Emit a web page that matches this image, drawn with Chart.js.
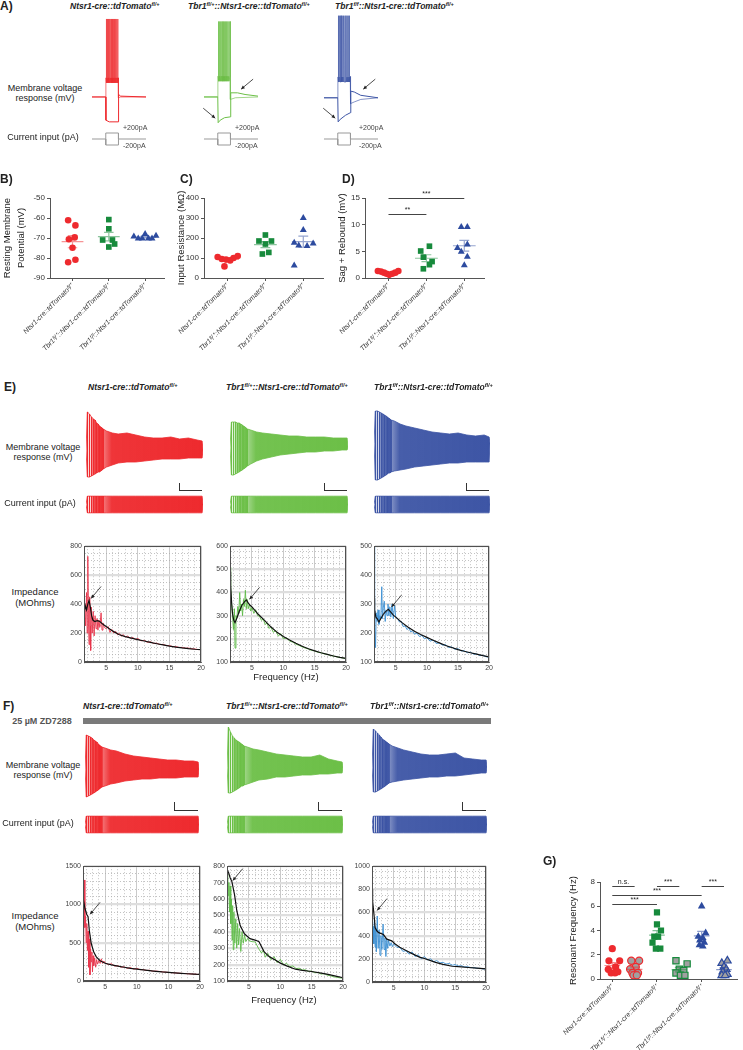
<!DOCTYPE html>
<html>
<head>
<meta charset="utf-8">
<script src="https://cdn.jsdelivr.net/npm/chart.js@4.4.1/dist/chart.umd.min.js"></script>
<style>
  body { margin: 0; background: #fff; }
  #fig { position: relative; width: 743px; height: 1050px; overflow: hidden; font-family: "Liberation Sans", Arial, sans-serif; color: #222; }
  #fig canvas { position: absolute; }
  .t { position: absolute; white-space: nowrap; line-height: 1.15; text-align: center; }
  .t sup { font-size: 5.5px; vertical-align: 3px; line-height: 0; }
  .sb { position: absolute; border-left: 1.3px solid #333; border-bottom: 1.3px solid #333; }
</style>
</head>
<body>
<div id="fig"></div>
<script>
// ---------- data ----------
const genotypes = ['Ntsr1-cre::tdTomatoᶠˡ/⁺', 'Tbr1ᶠˡ/⁺::Ntsr1-cre::tdTomatoᶠˡ/⁺', 'Tbr1ᶠ/ᶠ::Ntsr1-cre::tdTomatoᶠˡ/⁺'];
const titles = ['Ntsr1-cre::tdTomato<sup>fl/+</sup>', 'Tbr1<sup>fl/+</sup>::Ntsr1-cre::tdTomato<sup>fl/+</sup>', 'Tbr1<sup>f/f</sup>::Ntsr1-cre::tdTomato<sup>fl/+</sup>'];

// A: step responses (time ms, mV)
const aRest = [-65, -65, -66];
const aStepV = [-42, -40, -41];
const aSpikePeak = [29, 26, 33];
const aSpikeT = [
  [262, 271, 281, 292, 304, 317, 331, 346, 362, 379, 397, 416, 436, 457, 478],
  [262, 273, 285, 298, 312, 327, 343, 360, 378, 397, 417, 438, 460, 482],
  [262, 272, 283, 295, 308, 322, 337, 353, 370, 388, 407, 427, 448, 470]
];
const aHyper = [
  [[0, -65], [255, -65], [258, -93], [320, -95], [488, -95], [492, -62], [530, -64], [1000, -65]],
  [[0, -65], [255, -65], [262, -96], [300, -93], [380, -90], [488, -89], [495, -60], [620, -60], [760, -62], [1000, -64]],
  [[0, -66], [255, -66], [262, -95], [300, -92], [400, -87], [488, -84], [496, -58], [560, -59], [680, -63], [1000, -66]]
];
const aDepolEnd = [
  [[488, -42], [491, -66], [530, -65], [1000, -65]],
  [[488, -40], [494, -68], [580, -66], [1000, -65]],
  [[488, -40], [495, -73], [560, -71], [680, -68], [1000, -66]]
];
const aCurrentUp = [[0, 0], [255, 0], [255, 200], [490, 200], [490, 0], [1000, 0]];
const aCurrentDown = [[255, 0], [255, -200], [490, -200], [490, 0]];
const aArrows = [[], [[245, -93, -1], [650, -58, 1]], [[245, -93, -1], [690, -58, 1]]];

// B-D: passive properties
const rmpVals = [[-61.1, -63.7, -69.7, -70.6, -74.9, -80.9, -82.1], [-60.8, -65.4, -71, -71, -73, -74.5], [-69.2, -70.2, -70.2, -68, -70.2, -70.2, -68.9]];
const rmpJit = [[-0.12, 0.08, 0.06, -0.1, 0, 0.08, -0.12], [0, 0, -0.17, 0.1, 0.16, 0], [-0.31, -0.19, -0.08, 0, 0.09, 0.19, 0.3]];
const irVals = [[105, 95, 92, 88, 100, 110, 58], [185, 215, 185, 170, 120, 128], [300, 240, 176, 162, 160, 172, 62]];
const irJit = [[-0.26, -0.15, -0.04, 0.07, 0.16, 0.27, -0.08], [-0.17, 0, 0.16, 0, -0.08, 0.09], [0, 0, -0.24, -0.12, 0.1, 0.26, -0.24]];
const sagVals = [[1.3, 1.2, 1.0, 0.8, 0.6, 0.8, 1.0, 1.3], [5.06, 5.96, 3.9, 3.08, 2.5, 1.73], [9.55, 9.55, 6.3, 5.64, 4.94, 3.97, 2.37]];
const sagJit = [[-0.28, -0.2, -0.12, -0.05, 0.02, 0.1, 0.18, 0.26], [-0.15, 0.08, -0.08, 0.15, 0.08, -0.08], [-0.08, 0.08, 0.08, -0.18, -0.08, 0.08, 0]];
const sagSig = [[0, 2, 15, '***'], [0, 1, 12, '**']];

// E/F: chirp envelopes (time s, mV from rest / pA)
const envT = [0, 0.15, 0.25, 0.6, 0.95, 1.25, 1.55, 1.82, 2.08, 2.32, 2.55, 2.76, 2.96, 3.5, 4.5, 5.5, 7, 8.5, 10, 11.5, 13, 14.5, 16, 17.5, 19, 19.85, 20];
const eUp = [
  [0, 0, 38, 36, 33, 31, 30, 27, 26, 24, 23, 22, 21, 19, 17, 16, 17, 15, 13, 12, 12, 13, 11, 12, 10, 9, 0],
  [0, 0, 25, 25, 25, 24, 24, 23, 22, 21, 20, 19, 18, 17, 15, 14, 13, 12, 11, 11, 10, 10, 10, 9, 9, 9, 0],
  [0, 0, 32, 32, 31, 30, 29, 28, 27, 26, 25, 24, 23, 22, 19, 17, 15, 13, 11, 10, 9, 10, 8, 7, 8, 6, 0]
];
const eLo = [
  [0, 0, -27, -27, -26, -25, -24, -23, -22, -22, -21, -20, -19, -17, -15, -13, -12, -12, -11, -10, -9, -9, -9, -8, -8, -8, 0],
  [0, 0, -28, -28, -27, -26, -25, -24, -23, -22, -21, -20, -19, -17, -14, -12, -10, -8, -7, -6, -5, -5, -4, -4, -3, -3, 0],
  [0, 0, -37, -37, -36, -35, -34, -33, -32, -31, -30, -30, -29, -28, -27, -26, -24, -23, -22, -21, -20, -20, -19, -19, -19, -19, 0]
];
const fUp = [
  [0, 0, 34, 33, 32, 31, 29, 28, 27, 25, 24, 23, 22, 21, 19, 18, 15, 13, 12, 11, 10, 9, 9, 8, 8, 7, 0],
  [0, 0, 40, 35, 31, 29, 27, 26, 25, 24, 23, 22, 21, 20, 18, 17, 15, 13, 12, 11, 10, 10, 12, 8, 6, 5, 0],
  [0, 0, 38, 36, 34, 32, 30, 28, 27, 26, 25, 24, 23, 21, 19, 17, 15, 13, 12, 12, 13, 14, 9, 8, 7, 7, 0]
];
const fLo = [
  [0, 0, -28, -27, -26, -25, -24, -23, -22, -21, -20, -19, -18, -17, -15, -14, -12, -11, -10, -10, -9, -9, -9, -8, -8, -8, 0],
  [0, 0, -26, -26, -25, -24, -23, -22, -21, -20, -19, -19, -18, -17, -15, -13, -12, -10, -10, -9, -8, -8, -7, -7, -6, -6, 0],
  [0, 0, -25, -25, -24, -23, -22, -21, -20, -19, -18, -17, -16, -15, -14, -13, -12, -11, -10, -10, -9, -9, -8, -7, -6, -6, 0]
];
const curUp = [0, 0, 100, 100, 100, 100, 100, 100, 100, 100, 100, 100, 100, 100, 100, 100, 100, 100, 100, 100, 100, 100, 100, 100, 100, 100, 0];
const curLo = [0, 0, -100, -100, -100, -100, -100, -100, -100, -100, -100, -100, -100, -100, -100, -100, -100, -100, -100, -100, -100, -100, -100, -100, -100, -100, 0];

// E/F: impedance profiles [Hz, MOhm]
const e1Raw = [[1.5,300],[1.6,400],[1.75,250],[1.9,480],[2.0,200],[2.1,730],[2.2,300],[2.3,120],[2.4,450],[2.5,250],[2.55,80],[2.65,380],[2.8,200],[2.95,350],[3.1,180],[3.25,320],[3.4,230],[3.55,300],[3.7,220],[3.85,290],[4.0,240],[4.2,340],[4.35,220],[4.5,270],[4.7,240],[5.0,230],[5.3,245],[5.6,205],[5.9,225],[6.2,200],[6.5,212],[6.8,188],[7.1,198],[7.4,178],[7.7,190],[8.0,172],[8.4,180],[8.8,162],[9.2,170],[9.6,155],[10,163],[10.5,146],[11,150],[11.5,136],[12,140],[12.5,128],[13,130],[13.5,120],[14,122],[14.5,113],[15,114],[15.5,106],[16,107],[16.5,100],[17,101],[17.5,95],[18,96],[18.5,91],[19,90],[19.5,86],[20,86]];
const e1Fit = [[1.5,330],[1.7,390],[1.9,360],[2.1,400],[2.3,425],[2.5,380],[2.7,320],[2.9,290],[3.2,280],[3.6,285],[4.0,280],[4.5,260],[5,245],[6,215],[7,190],[8,175],[9,165],[10,155],[11,145],[12,135],[13,126],[14,118],[15,110],[16,103],[17,97],[18,92],[19,88],[20,85]];
const e2Raw = [[1.5,510],[1.6,430],[1.75,350],[1.9,300],[2.05,240],[2.2,330],[2.3,160],[2.45,300],[2.6,290],[2.75,340],[2.9,310],[3.05,400],[3.2,320],[3.35,350],[3.5,300],[3.65,370],[3.8,340],[3.95,410],[4.1,330],[4.25,370],[4.4,330],[4.6,350],[4.8,320],[5.0,335],[5.3,310],[5.6,325],[5.9,300],[6.2,298],[6.5,280],[6.8,285],[7.1,262],[7.4,268],[7.7,245],[8.0,252],[8.4,228],[8.8,236],[9.2,212],[9.6,222],[10,200],[10.5,205],[11,190],[11.5,186],[12,177],[12.5,172],[13,165],[13.5,160],[14,156],[14.5,150],[15,148],[15.5,142],[16,140],[16.5,135],[17,133],[17.5,128],[18,126],[18.5,122],[19,120],[19.5,117],[20,115]];
const e2Fit = [[1.5,490],[1.6,430],[1.75,360],[1.9,310],[2.1,280],[2.3,270],[2.6,290],[3.0,320],[3.4,345],[3.8,360],[4.1,368],[4.4,355],[4.7,345],[5,338],[5.5,322],[6,306],[7,280],[8,252],[9,228],[10,210],[11,195],[12,181],[13,168],[14,157],[15,148],[16,140],[17,133],[18,126],[19,120],[20,116]];
const e3Raw = [[1.5,500],[1.55,350],[1.65,230],[1.75,150],[1.85,270],[2.0,240],[2.15,280],[2.3,230],[2.45,260],[2.6,250],[2.75,360],[2.85,250],[3.0,290],[3.15,310],[3.3,240],[3.45,280],[3.6,260],[3.75,300],[3.9,260],[4.05,290],[4.2,255],[4.4,300],[4.6,250],[4.8,295],[5.0,255],[5.3,250],[5.6,238],[5.9,240],[6.2,222],[6.5,225],[6.8,212],[7.1,218],[7.4,204],[7.7,208],[8.0,196],[8.4,200],[8.8,188],[9.2,192],[9.6,180],[10,184],[10.5,172],[11,176],[11.5,164],[12,166],[12.5,158],[13,160],[13.5,150],[14,152],[14.5,144],[15,146],[15.5,138],[16,139],[16.5,132],[17,134],[17.5,127],[18,128],[18.5,122],[19,123],[19.5,118],[20,117]];
const e3Fit = [[1.5,320],[1.6,280],[1.8,255],[2.0,250],[2.3,238],[2.6,250],[3.0,265],[3.4,275],[3.8,282],[4.2,272],[4.6,262],[5,255],[6,236],[7,220],[8,206],[9,195],[10,185],[11,175],[12,166],[13,157],[14,150],[15,143],[16,137],[17,132],[18,127],[19,122],[20,118]];
const f1Raw = [[1.5,950],[1.55,600],[1.6,250],[1.7,1320],[1.8,700],[1.9,850],[2.0,500],[2.1,750],[2.2,400],[2.3,650],[2.4,180],[2.5,550],[2.6,80],[2.7,420],[2.8,250],[2.9,380],[3.0,120],[3.1,330],[3.2,200],[3.35,300],[3.5,180],[3.65,280],[3.8,220],[4.0,270],[4.2,230],[4.4,290],[4.6,230],[4.8,260],[5,235],[5.5,215],[6,225],[6.5,195],[7,200],[7.5,180],[8,185],[8.5,165],[9,175],[9.5,155],[10,165],[10.5,148],[11,150],[11.5,138],[12,140],[12.5,128],[13,130],[14,120],[15,112],[16,106],[17,100],[18,95],[19,90],[20,84]];
const f1Fit = [[1.5,1090],[1.8,950],[2.1,870],[2.3,840],[2.5,660],[2.8,490],[3.2,380],[3.6,315],[4.2,265],[5,232],[6,210],[7,195],[8,180],[9,166],[10,155],[11,145],[12,135],[13,126],[14,118],[15,112],[16,106],[17,100],[18,95],[19,90],[20,85]];
const f2Raw = [[1.5,560],[1.6,760],[1.7,620],[1.8,700],[1.9,520],[2.0,680],[2.1,450],[2.2,600],[2.3,350],[2.4,560],[2.5,290],[2.6,520],[2.75,330],[2.9,480],[3.05,300],[3.2,450],[3.35,320],[3.5,420],[3.7,280],[3.9,400],[4.1,330],[4.3,380],[4.5,340],[4.8,360],[5,345],[5.5,340],[6,338],[6.5,300],[7,270],[7.3,290],[7.6,245],[8,268],[8.5,230],[9,248],[9.5,212],[10,232],[10.5,198],[11,208],[11.5,188],[12,192],[12.5,176],[13,178],[13.5,168],[14,168],[14.5,158],[15,160],[15.5,150],[16,152],[16.5,142],[17,145],[17.5,135],[18,132],[18.5,125],[19,123],[19.5,119],[20,117]];
const f2Fit = [[1.5,780],[1.76,760],[2.0,730],[2.28,706],[2.7,627],[3.07,527],[3.6,438],[4.27,388],[5.16,358],[6.1,348],[6.6,339],[7.4,279],[8.2,249],[9,232],[10,209],[11,192],[12.4,172],[13.5,165],[15,158],[16.5,148],[17.6,140],[19,128],[20,120]];
const f3Raw = [[1.5,520],[1.6,380],[1.7,480],[1.8,330],[1.9,550],[2.0,300],[2.1,470],[2.2,260],[2.35,570],[2.5,290],[2.65,450],[2.8,230],[2.95,400],[3.1,280],[3.3,500],[3.45,280],[3.6,380],[3.75,220],[3.9,370],[4.05,290],[4.2,360],[4.4,310],[4.6,340],[4.8,305],[5,330],[5.5,300],[6,300],[6.5,265],[7,270],[7.5,240],[8,260],[8.5,220],[9,235],[9.5,200],[10,220],[10.5,190],[11,200],[11.5,175],[12,185],[12.5,165],[13,170],[13.5,155],[14,160],[14.5,145],[15,150],[15.5,138],[16,140],[16.5,130],[17,132],[17.5,124],[18,125],[18.5,118],[19,118],[19.5,113],[20,112]];
const f3Fit = [[1.5,800],[1.6,700],[1.75,620],[1.9,540],[2.0,470],[2.3,440],[2.6,426],[3.0,418],[3.35,410],[3.9,370],[4.7,355],[5.2,330],[6,300],[7.1,270],[8,245],[9.2,215],[10,203],[11,185],[11.8,170],[13,152],[14.5,136],[16,130],[17.1,125],[18.5,119],[20,114]];
const freqLabels = ['5', '10', '15', '20'];
const freqLabelsF1 = ['5', '10', '10', '20']; // as printed in the figure

// G: resonant frequency
const resVals = [[2.5, 1.5, 1.5, 1.0, 0.8, 0.5, 0.5, 0.6], [1.5, 1.5, 1.0, 0.8, 0.5, 0.5, 0.3, 0.3], [5.5, 4.5, 4.0, 3.5, 3.5, 3.0, 2.5, 2.5], [1.5, 1.25, 0.8, 0.7, 0.5, 0.3, 0.3], [6.0, 3.8, 3.5, 3.4, 3.2, 3.0, 2.8, 2.7], [1.5, 1.3, 1.0, 0.8, 0.6, 0.4, 0.3, 0.3]];
const resJit = [[0, -0.15, 0.33, 0.15, -0.18, -0.05, 0.12, 0.25], [-0.15, 0.2, 0.05, -0.2, -0.1, 0.15, -0.05, 0.1], [0, 0, 0.18, -0.12, 0.05, -0.2, -0.05, 0.15], [-0.15, 0.35, 0, 0.2, -0.15, 0.05, 0.25], [0, 0.18, -0.15, 0.05, -0.08, 0.12, -0.1, 0.05], [0.15, -0.1, 0, 0.1, -0.05, 0.15, -0.1, 0.05]];
const resSig = [[0, 1, 7.65, 'n.s.'], [2, 3, 7.65, '***'], [4, 5, 7.65, '***'], [0, 4, 6.9, '***'], [0, 2, 6.2, '***']];

// ---------- colours ----------
const RED = '#ee2a2e', GREEN = '#6cbf47', BLUE = '#3d55a5';
const DOT_GREEN = '#178a3c', DOT_BLUE = '#2d4b9f', GRAY = '#a0a0a0';
const IMP = ['#e8354c', '#5fbb48', '#3b8fd2'];
const traceColors = [RED, GREEN, BLUE];

function rgba(hex, a) {
  const n = parseInt(hex.slice(1), 16);
  return `rgba(${n >> 16},${(n >> 8) & 255},${n & 255},${a})`;
}

Chart.defaults.font.family = '"Liberation Sans", Arial, sans-serif';
Chart.defaults.animation = false;
Chart.defaults.responsive = false;
Chart.defaults.events = [];
Chart.defaults.plugins.legend.display = false;
Chart.defaults.plugins.tooltip.enabled = false;

// box around impedance plots
const framePlugin = {
  id: 'frame',
  afterDraw(chart, args, opts) {
    if (!opts.on) return;
    const { ctx, chartArea: ca } = chart;
    ctx.save();
    ctx.strokeStyle = '#505050';
    ctx.lineWidth = 1;
    ctx.strokeRect(Math.round(ca.left) + 0.5, Math.round(ca.top) + 0.5, Math.round(ca.right - ca.left) - 1, Math.round(ca.bottom - ca.top) - 1);
    ctx.restore();
  }
};
// small pointer arrows
const arrowPlugin = {
  id: 'arrows',
  afterDatasetsDraw(chart, args, opts) {
    if (!opts.pts || !opts.pts.length) return;
    const { ctx, scales: { x, y } } = chart;
    const dx = opts.dx || 10, dy = opts.dy || 12;
    ctx.save();
    ctx.strokeStyle = '#222';
    ctx.fillStyle = '#222';
    ctx.lineWidth = 0.8;
    opts.pts.forEach(([fx, fv, side]) => {
      const px = x.getPixelForValue(fx) + side * 2, py = y.getPixelForValue(fv) - 2;
      const tx = px + side * dx, ty = py - dy;
      ctx.beginPath(); ctx.moveTo(tx, ty); ctx.lineTo(px, py); ctx.stroke();
      const ang = Math.atan2(py - ty, px - tx);
      ctx.beginPath();
      ctx.moveTo(px, py);
      ctx.lineTo(px - 4 * Math.cos(ang - 0.45), py - 4 * Math.sin(ang - 0.45));
      ctx.lineTo(px - 4 * Math.cos(ang + 0.45), py - 4 * Math.sin(ang + 0.45));
      ctx.closePath(); ctx.fill();
    });
    ctx.restore();
  }
};
// significance bars
const sigPlugin = {
  id: 'sig',
  afterDatasetsDraw(chart, args, opts) {
    if (!opts.bars) return;
    const { ctx, scales: { x, y } } = chart;
    ctx.save();
    ctx.strokeStyle = '#444';
    ctx.fillStyle = '#222';
    ctx.lineWidth = 1;
    ctx.font = '7px "Liberation Sans", Arial';
    ctx.textAlign = 'center';
    ctx.textBaseline = 'bottom';
    opts.bars.forEach(([a, b, v, txt]) => {
      const py = Math.round(y.getPixelForValue(v)) + 0.5;
      const xa = x.getPixelForValue(a), xb = x.getPixelForValue(b);
      ctx.beginPath(); ctx.moveTo(xa, py); ctx.lineTo(xb, py); ctx.stroke();
      ctx.fillText(txt, (xa + xb) / 2, py - 0.5);
    });
    ctx.restore();
  }
};
Chart.register(framePlugin, arrowPlugin, sigPlugin);

// ---------- page helpers ----------
const fig = document.getElementById('fig');
function canvasAt(left, top, w, h) {
  const c = document.createElement('canvas');
  c.width = w; c.height = h;
  c.style.left = left + 'px';
  c.style.top = top + 'px';
  fig.appendChild(c);
  return c;
}
function text(html, x, y, css, left) {
  const d = document.createElement('div');
  d.className = 't';
  d.innerHTML = html;
  d.style.cssText += `left:${x}px;top:${y}px;${css || ''}`;
  d.style.transform = left ? 'translate(0,-50%)' : 'translate(-50%,-50%)';
  fig.appendChild(d);
}
const xy = arr => arr.map(p => ({ x: p[0], y: p[1] }));

// ---------- panel A ----------
function stepChart(i, left) {
  const rest = aRest[i], stepV = aStepV[i], peak = aSpikePeak[i];
  const depol = [[0, rest], [255, rest], [257, stepV]];
  aSpikeT[i].forEach(s => depol.push([s - 1, stepV], [s, peak], [s + 1.5, stepV - 6]));
  depol.push([486, stepV]);
  aDepolEnd[i].forEach(p => depol.push(p));
  const col = traceColors[i];
  new Chart(canvasAt(left, 14, 60, 112), {
    type: 'line',
    data: { datasets: [
      { data: xy(aHyper[i]), borderColor: col, borderWidth: 1, pointRadius: 0 },
      { data: xy(depol), borderColor: rgba(col, 0.8), borderWidth: 0.8, pointRadius: 0 }
    ] },
    options: {
      layout: { padding: 0 },
      plugins: { arrows: { pts: aArrows[i], dx: 12, dy: 10 } },
      scales: { x: { type: 'linear', display: false, min: -37, max: 1074 }, y: { display: false, min: -100, max: 35 } }
    }
  });
  new Chart(canvasAt(left, 130, 60, 18), {
    type: 'line',
    data: { datasets: [
      { data: xy(aCurrentUp), borderColor: '#999', borderWidth: 1, pointRadius: 0 },
      { data: xy(aCurrentDown), borderColor: '#999', borderWidth: 1, pointRadius: 0 }
    ] },
    options: {
      layout: { padding: 0 },
      scales: { x: { type: 'linear', display: false, min: -37, max: 1074 }, y: { display: false, min: -300, max: 300 } }
    }
  });
}
const aStart = [92, 204, 324];
const aPlusX = [123, 235, 359];
aStart.forEach((xs, i) => {
  stepChart(i, xs - 2);
  text('+200pA', aPlusX[i], 128, 'font-size:7px;color:#444;', true);
  text('-200pA', aPlusX[i], 146, 'font-size:7px;color:#444;', true);
});

// ---------- panels B-D, G (dot plots) ----------
function dotChart(box, cfg) {
  const datasets = [];
  cfg.vals.forEach((vals, g) => {
    const st = cfg.styles[g];
    datasets.push({
      type: 'scatter', order: 2,
      data: vals.map((v, i) => ({ x: g + cfg.jit[g][i], y: v })),
      pointStyle: st.shape, pointRadius: st.r,
      backgroundColor: st.fill, borderColor: st.stroke, borderWidth: st.bw
    });
    const m = vals.reduce((a, b) => a + b, 0) / vals.length;
    const sd = Math.sqrt(vals.reduce((a, b) => a + (b - m) * (b - m), 0) / (vals.length - 1));
    const se = sd / Math.sqrt(vals.length);
    const w = cfg.meanW, cw = cfg.capW;
    datasets.push({
      type: 'line', order: 1, pointRadius: 0, borderWidth: 1.2, borderColor: st.line,
      data: [{ x: g - w, y: m }, { x: g + w, y: m }, { x: g, y: null },
             { x: g - cw, y: m + se }, { x: g + cw, y: m + se }, { x: g, y: null },
             { x: g - cw, y: m - se }, { x: g + cw, y: m - se }, { x: g, y: null },
             { x: g, y: m - se }, { x: g, y: m + se }]
    });
  });
  new Chart(canvasAt(box[0], box[1], box[2], box[3]), {
    type: 'scatter',
    data: { datasets },
    options: {
      layout: { padding: cfg.pad },
      plugins: { sig: { bars: cfg.sig } },
      scales: {
        x: {
          type: 'linear', min: cfg.xr[0], max: cfg.xr[1],
          afterBuildTicks: s => { s.ticks = cfg.tickAt.map(v => ({ value: v })); },
          afterFit: s => { s.height = cfg.xh; },
          ticks: { autoSkip: false, minRotation: 45, maxRotation: 45, padding: 1, color: '#333', font: { size: 7, style: 'italic' }, callback: (v, i) => cfg.xLabels[i] },
          grid: { drawOnChartArea: false, drawTicks: true, tickLength: 3, color: '#555' },
          border: { color: '#555', width: 1 }
        },
        y: {
          min: cfg.yr[0], max: cfg.yr[1],
          afterFit: s => { s.width = cfg.yw; },
          ticks: { stepSize: cfg.yr[2], color: '#333', font: { size: 8 }, padding: 2 },
          grid: { drawOnChartArea: false, drawTicks: true, tickLength: 3, color: '#555' },
          border: { color: '#555', width: 1 },
          title: { display: true, text: cfg.ytitle, color: '#222', font: { size: 9.5, lineHeight: 1.5 }, padding: { top: cfg.tp, bottom: 0 } }
        }
      }
    }
  });
}
const bdStyles = [
  { shape: 'circle', r: 3.3, fill: RED, stroke: RED, bw: 0, line: rgba(RED, 0.5) },
  { shape: 'rect', r: 4, fill: DOT_GREEN, stroke: DOT_GREEN, bw: 0, line: rgba(DOT_GREEN, 0.5) },
  { shape: 'triangle', r: 4, fill: DOT_BLUE, stroke: DOT_BLUE, bw: 0, line: rgba(DOT_BLUE, 0.5) }
];
const bdCommon = { styles: bdStyles, xr: [-0.62, 2.52], tickAt: [0, 1, 2], xLabels: genotypes, xh: 72, meanW: 0.3, capW: 0.13 };
dotChart([0, 186, 170, 164], Object.assign({}, bdCommon, { vals: rmpVals, jit: rmpJit, yr: [-90, -50, 10], yw: 50, pad: { top: 12, right: 6, left: 0, bottom: 0 }, ytitle: ['Resting Membrane', 'Potential (mV)'], tp: 0 }));
dotChart([170, 186, 160, 164], Object.assign({}, bdCommon, { vals: irVals, jit: irJit, yr: [0, 400, 100], yw: 34, pad: { top: 12, right: 7, left: 0, bottom: 0 }, ytitle: 'Input Resistance (MΩ)', tp: 4 }));
dotChart([330, 186, 160, 164], Object.assign({}, bdCommon, { vals: sagVals, jit: sagJit, yr: [0, 15, 5], yw: 35, pad: { top: 12, right: 6, left: 0, bottom: 0 }, ytitle: 'Sag + Rebound (mV)', tp: 5, sig: sagSig }));

const gStyles = [
  { shape: 'circle', r: 3.6, fill: RED, stroke: RED, bw: 0, line: rgba(RED, 0.55) },
  { shape: 'circle', r: 3.6, fill: GRAY, stroke: RED, bw: 1.2, line: rgba(RED, 0.55) },
  { shape: 'rect', r: 4.4, fill: DOT_GREEN, stroke: DOT_GREEN, bw: 0, line: rgba(DOT_GREEN, 0.55) },
  { shape: 'rect', r: 4.4, fill: GRAY, stroke: DOT_GREEN, bw: 1.2, line: rgba(DOT_GREEN, 0.55) },
  { shape: 'triangle', r: 4.4, fill: DOT_BLUE, stroke: DOT_BLUE, bw: 0, line: rgba(DOT_BLUE, 0.55) },
  { shape: 'triangle', r: 4.4, fill: GRAY, stroke: DOT_BLUE, bw: 1.2, line: rgba(DOT_BLUE, 0.55) }
];
dotChart([540, 860, 203, 190], { vals: resVals, jit: resJit, styles: gStyles, xr: [-0.55, 5.6], tickAt: [0, 2, 4], xLabels: genotypes, xh: 71, meanW: 0.35, capW: 0.2, yr: [0, 8, 2], yw: 60, pad: { top: 22, right: 5, left: 0, bottom: 0 }, ytitle: 'Resonant Frequency (Hz)', tp: 26, sig: resSig });

// ---------- E/F chirp traces ----------
function fade(ctx, hex) {
  const ca = ctx.chart.chartArea;
  if (!ca) return hex;
  const g = ctx.chart.ctx.createLinearGradient(ca.left, 0, ca.right, 0);
  g.addColorStop(0, rgba(hex, 0.1));
  g.addColorStop(0.07, rgba(hex, 0.3));
  g.addColorStop(0.22, rgba(hex, 0.95));
  g.addColorStop(1, rgba(hex, 1));
  return g;
}
function chirp(box, up, lo, color, range) {
  const early = [];
  for (let i = 2; i <= 12; i++) early.push({ x: envT[i], y: up[i] }, { x: envT[i], y: lo[i] }, { x: envT[i], y: null });
  new Chart(canvasAt(box[0], box[1], box[2], box[3]), {
    type: 'line',
    data: { datasets: [
      { data: envT.map((t, i) => ({ x: t, y: up[i] })), borderColor: color, borderWidth: 0.8, pointRadius: 0, fill: '+1', backgroundColor: ctx => fade(ctx, color) },
      { data: envT.map((t, i) => ({ x: t, y: lo[i] })), borderColor: color, borderWidth: 0.8, pointRadius: 0, fill: false },
      { data: early, borderColor: color, borderWidth: 0.9, pointRadius: 0 }
    ] },
    options: {
      layout: { padding: 0 },
      scales: { x: { type: 'linear', display: false, min: 0, max: 20 }, y: { display: false, min: -range, max: range } }
    }
  });
}
function scaleBar(x, y, w, h) {
  const d = document.createElement('div');
  d.className = 'sb';
  d.style.cssText += `left:${x}px;top:${y}px;width:${w}px;height:${h}px;`;
  fig.appendChild(d);
}
const eBox = [[86, 117, 450], [230, 118, 447], [374, 116, 443]];
eBox.forEach(([x, w, rest], i) => {
  chirp([x, rest - 45, w, 90], eUp[i], eLo[i], traceColors[i], 45);
  chirp([x, 492, w, 25], curUp, curLo, traceColors[i], 150);
  scaleBar(x + w - 24, 483, 22, 7);
});
const fBox = [[85, 114, 769], [227, 116, 767], [372, 115, 767]];
fBox.forEach(([x, w, rest], i) => {
  chirp([x, rest - 45, w, 90], fUp[i], fLo[i], traceColors[i], 45);
  chirp([x, 812, w, 25], curUp, curLo, traceColors[i], 150);
  scaleBar(x + w - 25, 802, 23, 8);
});

// ---------- E/F impedance ----------
function impedance(area, cfg) {
  const [x0, y0, x1, y1] = area;
  const yw = 22, xh = 12, pt = 4, pr = 4;
  const yTicks = [];
  for (let v = cfg.y[0]; v <= cfg.y[1] + 1e-9; v += cfg.y[3]) yTicks.push(v);
  const xTicks = [];
  for (let f = 2; f <= 20; f++) xTicks.push(f);
  const majY = v => (v - cfg.y[0]) % cfg.y[2] === 0;
  const majX = v => v % 5 === 0;
  new Chart(canvasAt(x0 - yw, y0 - pt, x1 - x0 + yw + pr, y1 - y0 + pt + xh), {
    type: 'line',
    data: { datasets: [
      { data: xy(cfg.raw), borderColor: cfg.color, borderWidth: 0.9, pointRadius: 0, order: 2 },
      { data: xy(cfg.fit), borderColor: '#111', borderWidth: 1.2, pointRadius: 0, order: 1 }
    ] },
    options: {
      layout: { padding: { top: pt, right: pr, left: 0, bottom: 0 } },
      plugins: { frame: { on: true }, arrows: { pts: [cfg.arrow], dx: 10, dy: 12 } },
      scales: {
        x: {
          type: 'linear', min: 1.5, max: 20,
          afterBuildTicks: s => { s.ticks = xTicks.map(v => ({ value: v })); },
          afterFit: s => { s.height = xh; },
          ticks: { autoSkip: false, maxRotation: 0, padding: 2, color: '#444', font: { size: 7 }, callback: v => majX(v) ? cfg.xLabels[v / 5 - 1] : '' },
          grid: { drawTicks: false, color: c => c.tick && majX(c.tick.value) ? '#c4c4c4' : '#a9a9a9', lineWidth: c => c.tick && majX(c.tick.value) ? 0.9 : 0.7 },
          border: { color: '#505050', dash: c => (c.tick && !majX(c.tick.value)) ? [1, 2] : [] }
        },
        y: {
          min: cfg.y[0], max: cfg.y[1],
          afterBuildTicks: s => { s.ticks = yTicks.map(v => ({ value: v })); },
          afterFit: s => { s.width = yw; },
          ticks: { autoSkip: false, padding: 2, color: '#444', font: { size: 7 }, callback: v => majY(v) ? String(v) : '' },
          grid: { drawTicks: false, color: c => c.tick && majY(c.tick.value) ? '#dedede' : '#a9a9a9', lineWidth: c => c.tick && majY(c.tick.value) ? 2.2 : 0.7 },
          border: { color: '#505050', dash: c => (c.tick && !majY(c.tick.value)) ? [1, 2] : [] }
        }
      }
    }
  });
}
impedance([84, 544, 203, 662], { raw: e1Raw, fit: e1Fit, color: IMP[0], y: [0, 800, 200, 50], xLabels: freqLabels, arrow: [2.3, 425, 1] });
impedance([230, 544, 348, 662], { raw: e2Raw, fit: e2Fit, color: IMP[1], y: [100, 600, 100, 25], xLabels: freqLabels, arrow: [4.3, 362, 1] });
impedance([374, 544, 491, 662], { raw: e3Raw, fit: e3Fit, color: IMP[2], y: [100, 500, 100, 25], xLabels: freqLabels, arrow: [4.0, 283, 1] });
impedance([83, 864, 202, 981], { raw: f1Raw, fit: f1Fit, color: IMP[0], y: [0, 1500, 500, 100], xLabels: freqLabelsF1, arrow: [2.3, 845, 1] });
impedance([227, 864, 345, 981], { raw: f2Raw, fit: f2Fit, color: IMP[1], y: [100, 800, 100, 25], xLabels: freqLabels, arrow: [2.1, 700, 1] });
impedance([372, 864, 488, 982], { raw: f3Raw, fit: f3Fit, color: IMP[2], y: [0, 1000, 200, 50], xLabels: freqLabels, arrow: [2.0, 600, 1] });

// ---------- text ----------
const letter = 'font-size:12px;font-weight:bold;';
text('A)', 0, 7, letter, true);
text('B)', 0, 180, letter, true);
text('C)', 180, 180, letter, true);
text('D)', 342, 180, letter, true);
text('E)', 4, 388, letter, true);
text('F)', 3, 707, letter, true);
text('G)', 543, 862, letter, true);

const ttl = 'font-size:8.5px;font-weight:bold;font-style:italic;';
[70, 188, 335].forEach((x, i) => text(titles[i], x, 7, ttl, true));
[88, 226, 374].forEach((x, i) => text(titles[i], x, 388, ttl, true));
[83, 226, 370].forEach((x, i) => text(titles[i], x, 707, ttl, true));

const lab = 'font-size:9px;';
text('Membrane voltage<br>response (mV)', 45, 93, lab);
text('Current input (pA)', 43, 137, lab);
text('Membrane voltage<br>response (mV)', 43, 452, lab);
text('Current input (pA)', 40, 503, lab);
text('Membrane voltage<br>response (mV)', 43, 770, lab);
text('Current input (pA)', 38, 823, lab);
text('Impedance<br>(MOhms)', 35, 598, 'font-size:9.5px;');
text('Impedance<br>(MOhms)', 35, 922, 'font-size:9.5px;');
text('Frequency (Hz)', 286, 677, 'font-size:9.5px;');
text('Frequency (Hz)', 284, 1000, 'font-size:9.5px;');

text('25 µM ZD7288', 42, 721, 'font-size:9px;font-weight:bold;color:#555;');
const zd = document.createElement('div');
zd.style.cssText = 'position:absolute;left:83px;top:718px;width:408px;height:6px;background:#7a7a7a;';
fig.appendChild(zd);
</script>
</body>
</html>
